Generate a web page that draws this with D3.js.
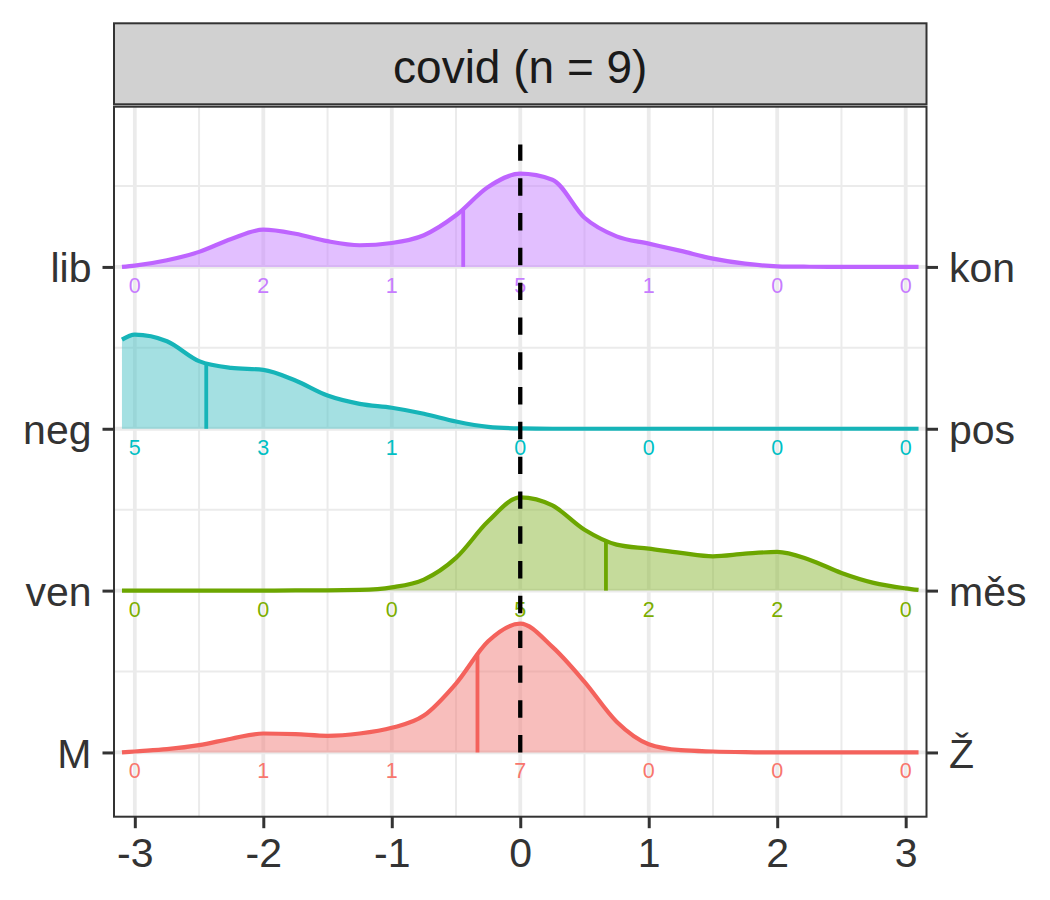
<!DOCTYPE html>
<html>
<head>
<meta charset="utf-8">
<script src="https://cdn.jsdelivr.net/npm/d3@7"></script>
<style>
  html, body { margin: 0; padding: 0; background: #ffffff; }
  svg { display: block; }
  text { font-family: "Liberation Sans", Arial, Helvetica, sans-serif; }
</style>
</head>
<body>
<svg id="chart" width="1050" height="900"></svg>
<script>
// ---------------- data ----------------
const stripTitle = "covid (n = 9)";
const leftLabels  = ["M", "ven", "neg", "lib"];
const rightLabels = ["Ž", "měs", "pos", "kon"];
const labelColors = ["#F8766D", "#7CAE00", "#00BFC4", "#C77CFF"];
const fillColors  = ["#F17D79", "#8BB737", "#49C1C5", "#C57FFF"];
const lineColors  = ["#F4625C", "#6CA600", "#16B4B8", "#BE64FF"];
const xTicks = [-3, -2, -1, 0, 1, 2, 3];
const xMinorTicks = [-2.5, -1.5, -0.5, 0.5, 1.5, 2.5];
const yMinorTicks = [1.5, 2.5, 3.5, 4.5];

// x positions at which the density curves were read
const xGrid = [-3.1, -3, -2.75, -2.5, -2.25, -2, -1.75, -1.5, -1.25, -1, -0.75, -0.5, -0.25,
               0, 0.25, 0.5, 0.75, 1, 1.25, 1.5, 1.75, 2, 2.25, 2.5, 2.75, 3, 3.1];

// ridge heights (in row units)
const densM   = [0, .006, .020, .045, .085, .117, .113, .103, .117, .152, .228, .426, .687,
                 .796, .652, .436, .190, .051, .014, .006, .002, 0, 0, 0, 0, 0, 0];
const densVen = [0, 0, 0, 0, 0, 0, .001, .001, .004, .020, .068, .202, .428,
                 .576, .526, .376, .284, .259, .233, .212, .228, .239, .191, .109, .048, .014, .004];
const densNeg = [.551, .582, .541, .418, .376, .364, .298, .205, .154, .130, .093, .045, .012,
                 .002, 0, 0, 0, 0, 0, 0, 0, 0, 0, 0, 0, 0, 0];
const densLib = [0, .008, .041, .093, .173, .230, .205, .159, .134, .148, .196, .319, .494,
                 .576, .539, .304, .189, .144, .099, .051, .020, .004, .001, 0, 0, 0, 0];

// counts of answers at -3..3
const countsM   = [0, 1, 1, 7, 0, 0, 0];
const countsVen = [0, 0, 0, 5, 2, 2, 0];
const countsNeg = [5, 3, 1, 0, 0, 0, 0];
const countsLib = [0, 2, 1, 5, 1, 0, 0];

// means (vertical lines)
const means = [-0.333, 0.667, -2.444, -0.444];

// reference line at 0
const refLineX = 0;
const refLineY = [1, 4.757];

const densities = [densM, densVen, densNeg, densLib];
const counts = [countsM, countsVen, countsNeg, countsLib];

// ---------------- layout ----------------
const svg = d3.select("#chart");
const panel = { left: 114, right: 926.5, top: 106.7, bottom: 816.7 };
const strip = { top: 23.3, bottom: 104.3 };

const x = d3.scaleLinear().domain([-3.162, 3.162]).range([panel.left, panel.right]);
const y = d3.scaleLinear().domain([0.603, 4.99]).range([panel.bottom, panel.top]);

svg.append("rect")
  .attr("x", panel.left).attr("y", panel.top)
  .attr("width", panel.right - panel.left).attr("height", panel.bottom - panel.top)
  .attr("fill", "#ffffff");

const grid = svg.append("g");
grid.selectAll(".vminor").data(xMinorTicks).join("line")
  .attr("x1", d => x(d)).attr("x2", d => x(d))
  .attr("y1", panel.top).attr("y2", panel.bottom)
  .attr("stroke", "#EBEBEB").attr("stroke-width", 2);
grid.selectAll(".hminor").data(yMinorTicks).join("line")
  .attr("y1", d => y(d)).attr("y2", d => y(d))
  .attr("x1", panel.left).attr("x2", panel.right)
  .attr("stroke", "#EBEBEB").attr("stroke-width", 2);
grid.selectAll(".vmajor").data(xTicks).join("line")
  .attr("x1", d => x(d)).attr("x2", d => x(d))
  .attr("y1", panel.top).attr("y2", panel.bottom)
  .attr("stroke", "#EBEBEB").attr("stroke-width", 3.8);
grid.selectAll(".hmajor").data([1, 2, 3, 4]).join("line")
  .attr("y1", d => y(d)).attr("y2", d => y(d))
  .attr("x1", panel.left).attr("x2", panel.right)
  .attr("stroke", "#EBEBEB").attr("stroke-width", 3.8);

// ridges: draw top row first so lower rows are on top
const ridgeG = svg.append("g");
[3, 2, 1, 0].forEach(i => {
  const pts = xGrid.map((xv, k) => ({ x: xv, h: densities[i][k] }));
  const base = i + 1;
  const yb = y(base);
  const area = d3.area()
    .x(d => x(d.x))
    .y0(yb)
    .y1(d => y(base + d.h))
    .curve(d3.curveMonotoneX);
  const line = d3.line()
    .x(d => x(d.x))
    .y(d => y(base + d.h))
    .curve(d3.curveMonotoneX);
  const g = ridgeG.append("g");
  g.append("path").datum(pts).attr("d", area)
    .attr("fill", fillColors[i]).attr("fill-opacity", 0.5).attr("stroke", "none");
  const lp = g.append("path").datum(pts).attr("d", line)
    .attr("fill", "none").attr("stroke", lineColors[i]).attr("stroke-width", 4.2)
    .attr("stroke-linejoin", "round");

  // curve height at the mean, found on the drawn line
  const node = lp.node();
  const total = node.getTotalLength();
  const tx = x(means[i]);
  let lo = 0, hi = total;
  for (let it = 0; it < 40; it++) {
    const mid = (lo + hi) / 2;
    if (node.getPointAtLength(mid).x < tx) lo = mid; else hi = mid;
  }
  const p = node.getPointAtLength((lo + hi) / 2);
  g.append("line")
    .attr("x1", tx).attr("x2", tx)
    .attr("y1", yb).attr("y2", p.y)
    .attr("stroke", lineColors[i]).attr("stroke-width", 3.8);

  // count labels
  g.selectAll(".cnt").data(counts[i]).join("text")
    .attr("x", (d, k) => x(xTicks[k]))
    .attr("y", yb + 26)
    .attr("text-anchor", "middle")
    .attr("font-size", 21.5)
    .attr("fill", labelColors[i])
    .text(d => d);
});

// dashed reference line (drawn bottom -> top)
svg.append("line")
  .attr("x1", x(refLineX)).attr("x2", x(refLineX))
  .attr("y1", y(refLineY[0])).attr("y2", y(refLineY[1]))
  .attr("stroke", "#000000").attr("stroke-width", 4.3)
  .attr("stroke-dasharray", "17.4,17.4");

// panel border
svg.append("rect")
  .attr("x", panel.left).attr("y", panel.top)
  .attr("width", panel.right - panel.left).attr("height", panel.bottom - panel.top)
  .attr("fill", "none").attr("stroke", "#333333").attr("stroke-width", 2);

// strip
svg.append("rect")
  .attr("x", panel.left).attr("y", strip.top)
  .attr("width", panel.right - panel.left).attr("height", strip.bottom - strip.top)
  .attr("fill", "#D1D1D1").attr("stroke", "#333333").attr("stroke-width", 2);
svg.append("text")
  .attr("x", (panel.left + panel.right) / 2)
  .attr("y", 82.5)
  .attr("text-anchor", "middle")
  .attr("font-size", 46)
  .attr("fill", "#1A1A1A")
  .text(stripTitle);

// bottom axis
const xAxis = d3.axisBottom(x).tickValues(xTicks).tickSize(11.5).tickPadding(10);
const gx = svg.append("g").attr("transform", `translate(0,${panel.bottom})`).call(xAxis);
gx.select(".domain").remove();
gx.selectAll(".tick line").attr("stroke", "#333333").attr("stroke-width", 3);
gx.selectAll(".tick text").attr("font-size", 41).attr("fill", "#333333")
  .attr("font-family", "Liberation Sans, Arial, sans-serif")
  .text(d => d < 0 ? "-" + Math.abs(d) : String(d));

// left axis
const yPoint = d3.scalePoint().domain(leftLabels).range([y(1), y(4)]);
const gl = svg.append("g").attr("transform", `translate(${panel.left},0)`)
  .call(d3.axisLeft(yPoint).tickSize(11.5).tickPadding(11));
gl.select(".domain").remove();
gl.selectAll(".tick line").attr("stroke", "#333333").attr("stroke-width", 3);
gl.selectAll(".tick text").attr("font-size", 41).attr("fill", "#333333")
  .attr("font-family", "Liberation Sans, Arial, sans-serif").attr("dy", "0.36em");

// right axis
const yPointR = d3.scalePoint().domain(rightLabels).range([y(1), y(4)]);
const gr = svg.append("g").attr("transform", `translate(${panel.right},0)`)
  .call(d3.axisRight(yPointR).tickSize(11.5).tickPadding(11));
gr.select(".domain").remove();
gr.selectAll(".tick line").attr("stroke", "#333333").attr("stroke-width", 3);
gr.selectAll(".tick text").attr("font-size", 41).attr("fill", "#333333")
  .attr("font-family", "Liberation Sans, Arial, sans-serif").attr("dy", "0.36em");
</script>
</body>
</html>
